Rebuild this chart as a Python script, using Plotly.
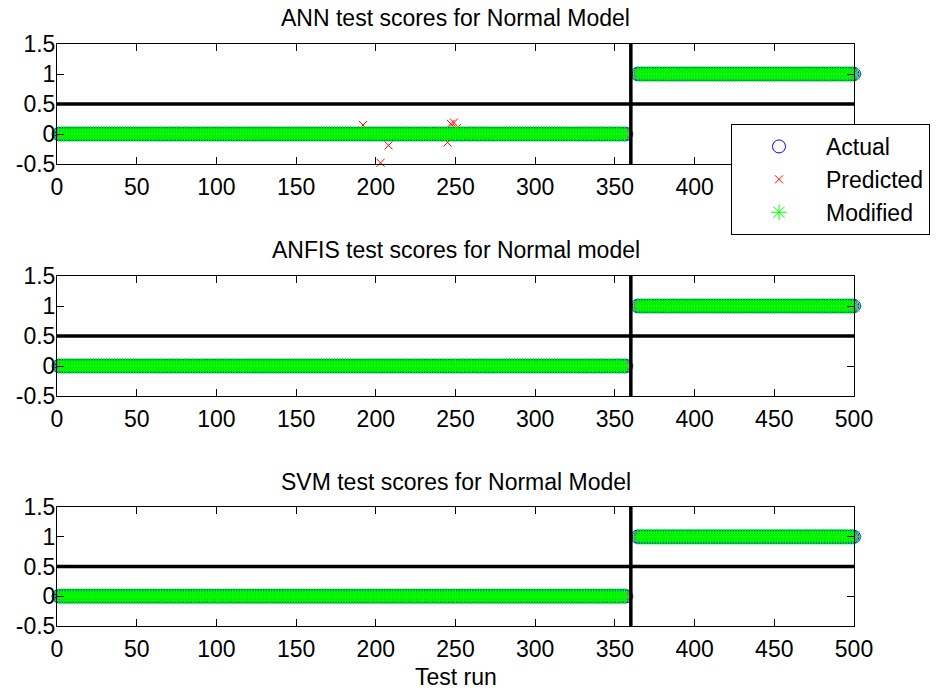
import plotly.graph_objects as go

# ---- data -------------------------------------------------------------
normal_runs = list(range(1, 358))       # test runs of class 0 (normal)
fault_runs = list(range(364, 501))      # test runs of class 1 (faulty)
split_run = 360                         # class boundary, drawn as a vertical line
decision_level = 0.5                    # decision threshold, drawn as a horizontal line
x_max = 500

test_run = normal_runs + fault_runs
actual = [0] * len(normal_runs) + [1] * len(fault_runs)

# ANN raw outputs that stray away from the class value
ann_outlier_runs = [192, 203, 208, 245, 247, 249, 251]
ann_outlier_vals = [0.15, -0.48, -0.19, -0.14, 0.17, 0.19, 0.10]

ann_predicted = list(actual)
for r, v in zip(ann_outlier_runs, ann_outlier_vals):
    ann_predicted[test_run.index(r)] = v
ann_modified = list(actual)

anfis_predicted = list(actual)
anfis_modified = list(actual)
svm_predicted = list(actual)
svm_modified = list(actual)

titles = ["ANN test scores for Normal Model",
          "ANFIS test scores for Normal model",
          "SVM test scores for Normal Model"]
panels = [(ann_predicted, ann_modified),
          (anfis_predicted, anfis_modified),
          (svm_predicted, svm_modified)]

x_ticks = [0, 50, 100, 150, 200, 250, 300, 350, 400, 450, 500]
y_ticks = [-0.5, 0, 0.5, 1, 1.5]
y_tick_text = ["-0.5", "0", "0.5", "1", "1.5"]

# ---- layout geometry (paper fractions) --------------------------------
W, H = 937, 691
x_dom = [57 / W, 854 / W]
y_doms = [[1 - 164 / H, 1 - 44 / H],
          [1 - 396 / H, 1 - 276 / H],
          [1 - 626 / H, 1 - 507 / H]]
title_y = [18, 250, 482]

FONT = "Liberation Sans, Arial, sans-serif"
FS = 23

fig = go.Figure()

for i, (pred, mod) in enumerate(panels):
    k = "" if i == 0 else str(i + 1)
    xa, ya = "x" + k, "y" + k
    show = i == 0
    fig.add_trace(go.Scatter(
        x=test_run, y=actual, mode="markers", name="Actual", cliponaxis=False,
        marker=dict(symbol="circle-open", size=13, color="#0000ff",
                    line=dict(width=1, color="#0000ff")),
        xaxis=xa, yaxis=ya, showlegend=show, legendgroup="a"))
    fig.add_trace(go.Scatter(
        x=test_run, y=pred, mode="markers", name="Predicted", cliponaxis=False,
        marker=dict(symbol="x-thin-open", size=8, color="#ff0000",
                    line=dict(width=1, color="#ff0000")),
        xaxis=xa, yaxis=ya, showlegend=show, legendgroup="p"))
    fig.add_trace(go.Scatter(
        x=test_run, y=mod, mode="markers", name="Modified", cliponaxis=False,
        marker=dict(symbol="asterisk-open", size=13, color="#00ff00",
                    line=dict(width=1, color="#00ff00")),
        xaxis=xa, yaxis=ya, showlegend=show, legendgroup="m"))

    # threshold and class boundary
    fig.add_shape(type="line", xref=xa, yref=ya, x0=0, x1=x_max,
                  y0=decision_level, y1=decision_level,
                  line=dict(color="black", width=3.5), layer="above")
    fig.add_shape(type="line", xref=xa, yref=ya, x0=split_run, x1=split_run,
                  y0=-0.5, y1=1.5, line=dict(color="black", width=3.5), layer="above")

    axis_common = dict(showline=True, linecolor="black", linewidth=1, mirror="allticks",
                       ticks="inside", tickcolor="black", ticklen=7, tickwidth=1,
                       showgrid=False, zeroline=False,
                       tickfont=dict(family=FONT, size=FS, color="black"))
    fig.update_layout(**{
        "xaxis" + k: dict(domain=x_dom, range=[0, x_max], tickvals=x_ticks,
                          anchor=ya, ticklabelstandoff=2, **axis_common),
        "yaxis" + k: dict(domain=y_doms[i], range=[-0.5, 1.5], tickvals=y_ticks,
                          ticktext=y_tick_text, anchor=xa, ticklabelstandoff=-4,
                          **axis_common),
    })

    fig.add_annotation(text=titles[i], xref="paper", yref="paper",
                       x=(x_dom[0] + x_dom[1]) / 2, y=1 - title_y[i] / H,
                       xanchor="center", yanchor="middle", showarrow=False,
                       font=dict(family=FONT, size=FS, color="black"))

fig.add_annotation(text="Test run", xref="paper", yref="paper",
                   x=(x_dom[0] + x_dom[1]) / 2, y=1 - 677 / H,
                   xanchor="center", yanchor="middle", showarrow=False,
                   font=dict(family=FONT, size=FS, color="black"))

fig.update_layout(
    width=W, height=H, autosize=False,
    margin=dict(l=0, r=0, t=0, b=0, autoexpand=False),
    paper_bgcolor="white", plot_bgcolor="white",
    legend=dict(x=731 / W, y=1 - 124 / H, xanchor="left", yanchor="top",
                bgcolor="white", bordercolor="black", borderwidth=1,
                font=dict(family=FONT, size=FS, color="black"),
                itemwidth=84, tracegroupgap=0),
)

fig.write_html("out.html")
